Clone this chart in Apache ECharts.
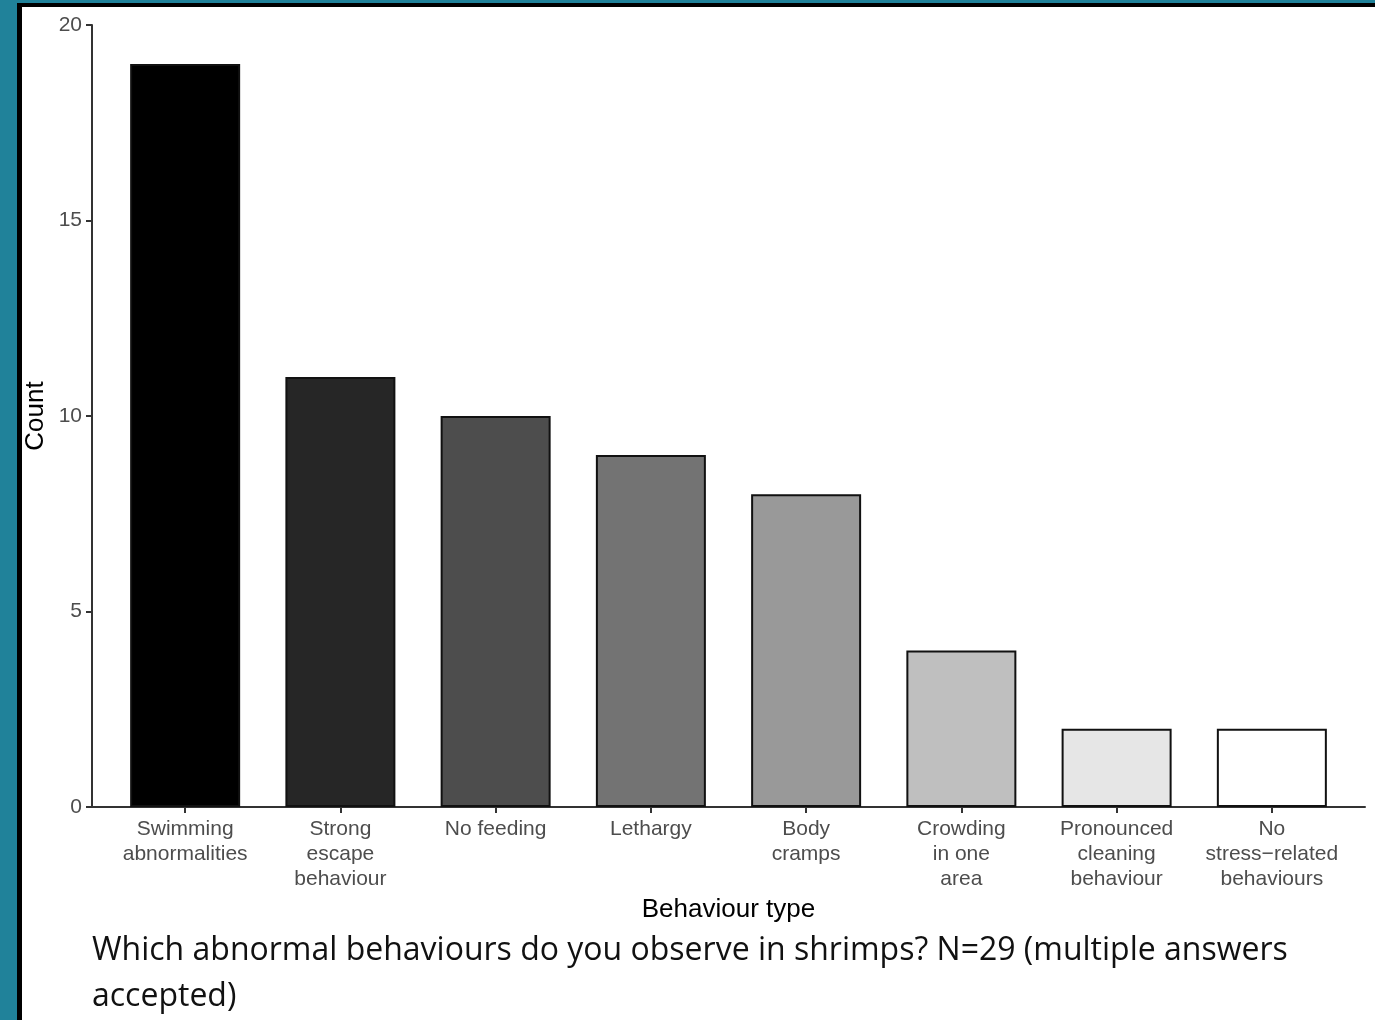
<!DOCTYPE html>
<html>
<head>
<meta charset="utf-8">
<script src="https://cdn.jsdelivr.net/npm/echarts@6/dist/echarts.min.js"></script>
<style>
  html, body { margin: 0; padding: 0; background: #20829a; width: 1375px; height: 1020px; overflow: hidden; }
  #frame { position: absolute; left: 17px; top: 3px; width: 1358px; height: 1017px;
           border-left: 5px solid #000; border-top: 4px solid #000; background: #fff; box-sizing: border-box; }
  #chart { width: 1353px; height: 1013px; }
</style>
</head>
<body>
<div id="frame"><div id="chart"></div></div>
<script>
// Survey responses: abnormal behaviours observed in shrimps
const categories = [
  'Swimming\nabnormalities',
  'Strong\nescape\nbehaviour',
  'No feeding',
  'Lethargy',
  'Body\ncramps',
  'Crowding\nin one\narea',
  'Pronounced\ncleaning\nbehaviour',
  'No\nstress\u2212related\nbehaviours'
];
const counts = [19, 11, 10, 9, 8, 4, 2, 2];
const fills = ['#000000', '#262626', '#4d4d4d', '#737373', '#999999', '#bfbfbf', '#e6e6e6', '#ffffff'];
const yTicks = [0, 5, 10, 15, 20];
const caption = 'Which abnormal behaviours do you observe in shrimps? N=29 (multiple answers\naccepted)';

const positions = categories.map((_, i) => i + 1);
const chart = echarts.init(document.getElementById('chart'), null, { renderer: 'canvas' });

const SANS = "'Liberation Sans', Arial, sans-serif";
const tickLabelStyle = { color: '#4d4d4d', fontFamily: SANS, fontSize: 21 };

chart.setOption({
  animation: false,
  backgroundColor: '#ffffff',
  grid: { left: 70, right: 10, top: 18, bottom: 213, containLabel: false, outerBoundsMode: 'none' },
  xAxis: {
    type: 'value',
    min: 0.4,
    max: 8.6,
    splitLine: { show: false },
    axisLine: { show: true, onZero: false, lineStyle: { color: '#333', width: 2 } },
    axisTick: { show: true, customValues: positions, length: 6, lineStyle: { color: '#333', width: 2 } },
    axisLabel: Object.assign({
      customValues: positions,
      margin: 10,
      lineHeight: 25,
      align: 'center',
      formatter: v => categories[Math.round(v) - 1] || ''
    }, tickLabelStyle),
    name: 'Behaviour type',
    nameLocation: 'middle',
    nameGap: 87,
    nameTextStyle: { color: '#000', fontFamily: SANS, fontSize: 26 }
  },
  yAxis: {
    type: 'value',
    min: 0,
    max: 20,
    interval: 5,
    splitLine: { show: false },
    axisLine: { show: true, lineStyle: { color: '#333', width: 2 } },
    axisTick: { show: true, length: 6, lineStyle: { color: '#333', width: 2 } },
    axisLabel: Object.assign({
      margin: 10,
      formatter: v => (yTicks.includes(v) ? String(v) : '')
    }, tickLabelStyle),
    name: 'Count',
    nameLocation: 'middle',
    nameGap: 43,
    nameMoveOverlap: false,
    nameRotate: 90,
    nameTextStyle: { color: '#000', fontFamily: SANS, fontSize: 26 }
  },
  series: [{
    type: 'bar',
    barWidth: 110,
    data: counts.map((c, i) => ({
      value: [positions[i], c],
      itemStyle: { color: fills[i], borderColor: '#111', borderWidth: 2 }
    }))
  }],
  graphic: [{
    type: 'text',
    left: 70,
    top: 921,
    style: {
      text: caption,
      fill: '#111',
      font: "32px 'Open Sans', sans-serif",
      lineHeight: 46
    }
  }]
});
</script>
</body>
</html>
